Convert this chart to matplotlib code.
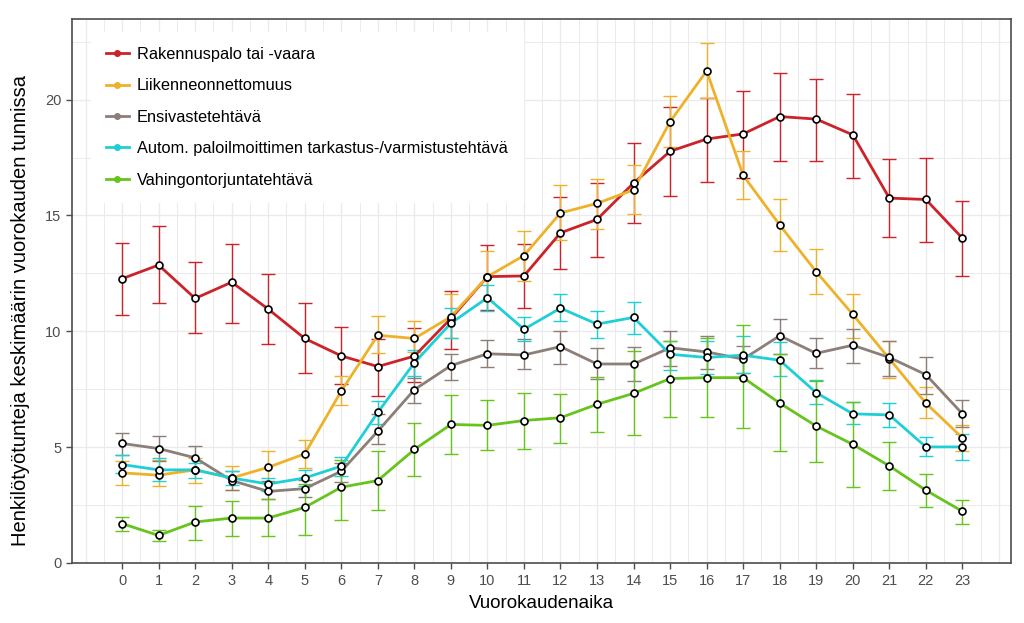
import matplotlib
matplotlib.use("Agg")
from matplotlib import pyplot as plt
from matplotlib.lines import Line2D
import numpy as np

hours = list(range(24))

labels = ["Rakennuspalo tai -vaara",
          "Liikenneonnettomuus",
          "Ensivastetehtävä",
          "Autom. paloilmoittimen tarkastus-/varmistustehtävä",
          "Vahingontorjuntatehtävä"]

# mean values and lower/upper ends of the error bars
red_mean = [12.27, 12.86, 11.42, 12.12, 10.96, 9.69, 8.94, 8.48, 8.93, 10.55, 12.36, 12.39,
            14.25, 14.83, 16.40, 17.77, 18.30, 18.52, 19.27, 19.16, 18.48, 15.75, 15.69, 14.02]
red_lo = [10.71, 11.23, 9.91, 10.38, 9.44, 8.19, 7.71, 7.19, 7.80, 9.25, 10.94, 11.00,
          12.69, 13.21, 14.68, 15.86, 16.44, 16.62, 17.37, 17.37, 16.62, 14.06, 13.84, 12.40]
red_hi = [13.83, 14.55, 12.98, 13.79, 12.46, 11.23, 10.20, 9.67, 10.15, 11.72, 13.73, 13.77,
          15.80, 16.40, 18.13, 19.67, 20.08, 20.38, 21.13, 20.89, 20.25, 17.42, 17.48, 15.62]

orange_mean = [3.89, 3.79, 4.02, 3.67, 4.13, 4.71, 7.42, 9.83, 9.69, 10.63, 12.36, 13.27,
               15.11, 15.52, 16.11, 19.05, 21.24, 16.73, 14.59, 12.57, 10.73, 8.82, 6.90, 5.40]
orange_lo = [3.38, 3.31, 3.46, 3.17, 3.46, 4.10, 6.80, 9.08, 9.10, 9.69, 11.32, 12.19,
             13.96, 14.41, 15.07, 17.95, 20.05, 15.69, 13.45, 11.59, 9.73, 8.00, 6.24, 4.83]
orange_hi = [4.40, 4.46, 4.54, 4.18, 4.83, 5.29, 8.07, 10.67, 10.43, 11.61, 13.46, 14.31,
             16.33, 16.56, 17.16, 20.14, 22.45, 17.78, 15.69, 13.54, 11.63, 9.59, 7.60, 5.95]

gray_mean = [5.16, 4.94, 4.54, 3.56, 3.09, 3.21, 3.96, 5.69, 7.48, 8.52, 9.03, 8.98,
             9.34, 8.59, 8.59, 9.29, 9.11, 8.80, 9.81, 9.05, 9.40, 8.87, 8.13, 6.44]
gray_lo = [4.68, 4.39, 4.03, 3.17, 2.76, 2.85, 3.50, 5.12, 6.90, 7.88, 8.46, 8.36,
           8.61, 7.93, 7.86, 8.51, 8.36, 8.22, 9.01, 8.41, 8.65, 8.06, 7.31, 5.87]
gray_hi = [5.63, 5.50, 5.04, 3.99, 3.53, 3.60, 4.32, 6.42, 8.00, 9.01, 9.62, 9.66,
           10.02, 9.27, 9.33, 10.02, 9.80, 9.37, 10.53, 9.69, 10.09, 9.60, 8.91, 7.02]

cyan_mean = [4.25, 4.02, 4.02, 3.67, 3.41, 3.67, 4.18, 6.50, 8.64, 10.35, 11.45, 10.09,
             11.00, 10.31, 10.60, 9.01, 8.87, 8.97, 8.75, 7.35, 6.44, 6.39, 5.01, 5.01]
cyan_lo = [3.89, 3.53, 3.67, 3.36, 3.10, 3.31, 3.75, 6.01, 8.07, 9.70, 10.89, 9.59,
           10.43, 9.73, 9.88, 8.33, 8.17, 8.22, 8.07, 6.85, 5.98, 5.87, 4.61, 4.44]
cyan_hi = [4.68, 4.54, 4.32, 3.99, 3.67, 4.03, 4.58, 6.99, 9.18, 11.00, 12.00, 10.63,
           11.60, 10.89, 11.25, 9.59, 9.59, 9.80, 9.52, 7.89, 6.95, 6.89, 5.45, 5.58]

green_mean = [1.70, 1.19, 1.77, 1.94, 1.94, 2.40, 3.27, 3.56, 4.90, 5.98, 5.94, 6.15,
              6.27, 6.85, 7.32, 7.96, 8.00, 8.00, 6.90, 5.91, 5.12, 4.19, 3.14, 2.23]
green_lo = [1.36, 0.96, 1.00, 1.15, 1.15, 1.22, 1.84, 2.30, 3.74, 4.71, 4.86, 4.94,
            5.16, 5.65, 5.52, 6.31, 6.31, 5.81, 4.83, 4.35, 3.27, 3.14, 2.40, 1.70]
green_hi = [1.98, 1.44, 2.47, 2.69, 2.75, 3.41, 4.46, 4.83, 6.05, 7.25, 7.02, 7.35,
            7.31, 8.03, 9.15, 9.59, 9.73, 10.27, 9.01, 7.86, 6.95, 5.22, 3.84, 2.73]

colors = ["#cc2229", "#efb12a", "#8c7f78", "#1fcfd6", "#66c41c"]

series = [(red_mean, red_lo, red_hi),
          (orange_mean, orange_lo, orange_hi),
          (gray_mean, gray_lo, gray_hi),
          (cyan_mean, cyan_lo, cyan_hi),
          (green_mean, green_lo, green_hi)]

plt.rcParams["font.family"] = ["Liberation Sans", "DejaVu Sans"]

fig = plt.figure(figsize=(10.24, 6.23), dpi=100)
ax = fig.add_axes([72 / 1024, 1 - 563 / 623, (1011 - 72) / 1024, (563 - 19) / 623])

# grid (major + half steps)
for gx in np.arange(-1, 24.01, 0.5):
    ax.axvline(gx, color="#ebebeb", lw=1.0 if gx % 1 == 0 else 0.7, zorder=0)
for gy in np.arange(0, 23.5, 2.5):
    ax.axhline(gy, color="#ebebeb", lw=1.0 if gy % 5 == 0 else 0.7, zorder=0)

x = np.array(hours)
for (m, lo, hi), c in zip(series, colors):
    m = np.array(m)
    yerr = [m - np.array(lo), np.array(hi) - m]
    ax.errorbar(x, m, yerr=yerr, fmt="none", ecolor=c, elinewidth=1.0,
                capsize=5, capthick=1.0, zorder=2)
for (m, lo, hi), c in zip(series, colors):
    ax.plot(x, m, color=c, lw=2.0, zorder=3)
for (m, lo, hi), c in zip(series, colors):
    ax.plot(x, m, ls="none", marker="o", ms=5, mfc="white", mec="black",
            mew=1.2, zorder=4)

ax.set_xlim(-1.37, 24.33)
ax.set_ylim(0, 23.48)
ax.set_xticks(hours)
ax.set_xticklabels([str(h) for h in hours])
ax.set_yticks([0, 5, 10, 15, 20])
ax.tick_params(colors="#4d4d4d", labelsize=10.5, length=4, width=1)
ax.tick_params(axis="x", labelcolor="#4d4d4d", pad=4)
for side in ax.spines.values():
    side.set_color("#4d4d4d")
    side.set_linewidth(1.2)

ax.set_xlabel("Vuorokaudenaika", fontsize=13.5, labelpad=5)
ax.set_ylabel("Henkilötyötunteja keskimäärin vuorokauden tunnissa", fontsize=14.5)
ax.yaxis.set_label_coords(-0.045, 0.465)

handles = [Line2D([0], [0], color=c, lw=2, marker="o", ms=4, mfc=c, mec=c) for c in colors]
leg = ax.legend(handles, labels, loc="upper left",
                bbox_to_anchor=(83 / 1024, 1 - 24 / 623), bbox_transform=fig.transFigure,
                fontsize=11.8, frameon=True, fancybox=False, framealpha=1,
                facecolor="white", edgecolor="white", borderpad=0.9,
                labelspacing=1.0, handlelength=1.4, handletextpad=0.5)
leg.set_zorder(5)

fig.savefig("out.png", dpi=100)
